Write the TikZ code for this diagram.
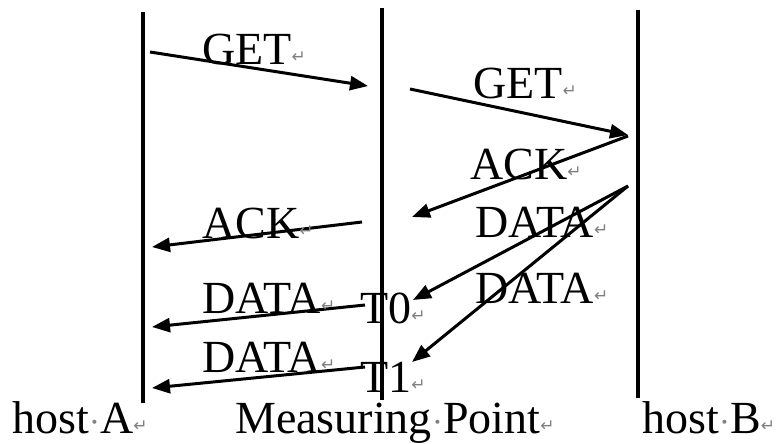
\documentclass[tikz,border=0pt]{standalone}
\usepackage{fontspec}
\setmainfont{Liberation Serif}
\newfontfamily\symfont{DejaVu Sans}
\usetikzlibrary{arrows.meta}
\newcommand{\retmark}{{\symfont\fontsize{17}{17}\selectfont\color{black!50}\raisebox{2pt}{↵}}}
\newcommand{\spmark}{\textcolor{black!50}{\fontsize{34}{34}\selectfont·}}

\begin{document}
\begin{tikzpicture}[x=1pt,y=-1pt,>={Triangle[length=18pt,width=14pt]},
  life/.style={line width=3.4pt},
  msg/.style={->,line width=3pt},
  lab/.style={anchor=base west,inner sep=0pt,font=\fontsize{46}{50}\selectfont}]
\useasboundingbox (0,0) rectangle (780,444);
% lifelines
\coordinate (A0) at (143,12); \coordinate (A1) at (143,403);
\coordinate (M0) at (382,8); \coordinate (M1) at (382,400);
\coordinate (B0) at (638,10); \coordinate (B1) at (638,398);
\draw[life] (A0)--(A1); \draw[life] (M0)--(M1); \draw[life] (B0)--(B1);
% host A -> host B
\coordinate (a1) at (150,52); \coordinate (m1) at (368,86);
\coordinate (m2) at (410,89); \coordinate (b2) at (628,135);
\draw[msg] (a1)--(m1); \draw[msg] (m2)--(b2);
\node[lab] (get1) at (202,65) {GET\retmark};
\node[lab] (get2) at (473,99) {GET\retmark};
% host B -> Measuring Point
\coordinate (b3) at (628,136); \coordinate (m3) at (412,217);
\coordinate (b4) at (628,186); \coordinate (m4) at (413,300); \coordinate (m5) at (412,362);
\draw[msg] (b3)--(m3); \draw[msg] (b4)--(m4); \draw[msg] (b4)--(m5);
\node[lab] (ack1) at (470,179) {ACK\retmark};
\node[lab] (data1) at (475,237) {DATA\retmark};
\node[lab] (data2) at (475,303) {DATA\retmark};
% Measuring Point -> host A
\coordinate (m6) at (362,222); \coordinate (a6) at (152,247);
\coordinate (m7) at (365,305); \coordinate (a7) at (152,327);
\coordinate (m8) at (365,367); \coordinate (a8) at (152,388);
\draw[msg] (m6)--(a6); \draw[msg] (m7)--(a7); \draw[msg] (m8)--(a8);
\node[lab] (ack2) at (202,238) {ACK\retmark};
\node[lab] (data3) at (202,313) {DATA\retmark};
\node[lab] (data4) at (202,372) {DATA\retmark};
\node[lab] (t0) at (360,323) {T0\retmark};
\node[lab] (t1) at (360,392) {T1\retmark};
% hosts
\node[lab] (hostA) at (12,433) {host\spmark A\retmark};
\node[lab] (mp) at (235,433) {Measuring\spmark Point\retmark};
\node[lab] (hostB) at (642,433) {host\spmark B\retmark};
\end{tikzpicture}
\end{document}
